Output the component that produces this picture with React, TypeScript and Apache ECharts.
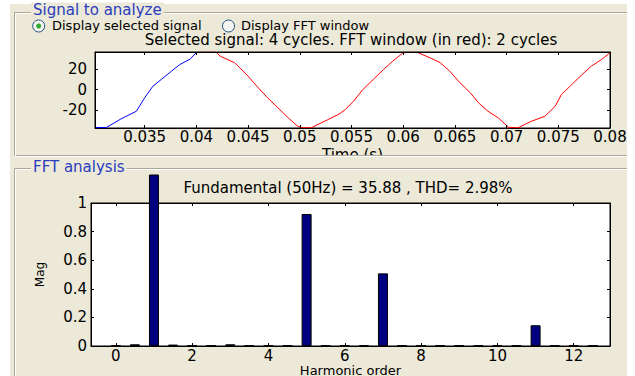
import React, { useEffect, useRef } from "react";
import * as echarts from "echarts";

// ---- Signal (top panel) ----
const blueTime = [0.0302, 0.0313, 0.0327, 0.0342, 0.035, 0.0358, 0.0366, 0.0376, 0.0384, 0.0394, 0.04];
const blueValue = [-36.6, -36.6, -28.4, -20.9, -8.0, 3.3, 9.7, 17.8, 24.2, 29.4, 35.8];
const redTime = [
  0.04, 0.0419, 0.0423, 0.0437, 0.045, 0.046, 0.0469, 0.0479, 0.0489, 0.0498, 0.0503, 0.0511,
  0.0527, 0.0537, 0.0544, 0.0552, 0.0561, 0.0571, 0.0581, 0.059, 0.06, 0.0613, 0.0626, 0.0636,
  0.0645, 0.0655, 0.0665, 0.0673, 0.0682, 0.0692, 0.0702, 0.0711, 0.0724, 0.0737, 0.0747,
  0.0753, 0.0763, 0.0773, 0.0782, 0.0792, 0.08,
];
const redValue = [
  35.9, 36.2, 32.3, 25.9, 13.0, 1.6, -8.0, -17.7, -27.4, -35.4, -36.9, -36.9,
  -29.1, -24.2, -19.4, -11.2, 0.0, 9.7, 19.4, 27.5, 35.6, 36.2, 30.7, 25.9,
  17.8, 6.5, -3.2, -12.9, -20.9, -27.4, -36.4, -36.9, -30.6, -25.8, -16.1,
  -4.8, 4.8, 14.5, 22.7, 29.1, 35.6,
];
const timeTicks = [0.035, 0.04, 0.045, 0.05, 0.055, 0.06, 0.065, 0.07, 0.075, 0.08];
const signalTicks = [-20, 0, 20];

// ---- FFT (bottom panel) ----
const harmonicOrder = [
  0, 0.5, 1, 1.5, 2, 2.5, 3, 3.5, 4, 4.5, 5, 5.5, 6, 6.5, 7, 7.5, 8, 8.5, 9, 9.5, 10, 10.5, 11, 11.5, 12, 12.5,
];
const magnitude = [
  0.004, 0.012, 35.88, 0.01, 0.004, 0.004, 0.012, 0.004, 0.004, 0.004, 0.923, 0.004, 0.004,
  0.004, 0.508, 0.004, 0.004, 0.004, 0.004, 0.004, 0.004, 0.004, 0.145, 0.004, 0.004, 0.004,
];
const harmonicTicks = [0, 2, 4, 6, 8, 10, 12];
const magTicks = [0, 0.2, 0.4, 0.6, 0.8, 1];

const BG = "#ece9d8";
const FONT = "DejaVu Sans";

// layout
const TOP = { left: 95, right: 25, top: 52, height: 76 };
const BOT = { left: 91, right: 25, top: 203, height: 143 };
const CLIP_TOP = 175;

function frameAxis(extra: any, ticks: number[], showLabels: boolean, margin: number) {
  return {
    type: "value",
    z: 10,
    axisLine: { show: true, onZero: false, lineStyle: { color: "#000", width: 1 } },
    axisTick: { show: true, inside: true, length: 3, customValues: ticks, lineStyle: { color: "#000" } },
    axisLabel: {
      show: showLabels,
      customValues: ticks,
      margin,
      color: "#000",
      fontFamily: FONT,
      fontSize: 15,
      lineHeight: 13,
      formatter: (v: number) => String(parseFloat(Number(v).toFixed(4))),
    },
    splitLine: { show: false },
    ...extra,
  };
}

export default function App() {
  const ref = useRef<HTMLDivElement>(null);
  useEffect(() => {
    const chart = echarts.init(ref.current!, null, { renderer: "svg" });
    const botBottom = BOT.top + BOT.height;
    const clipMax = (botBottom - CLIP_TOP) / BOT.height; // value at the clip line, axis scale 0..1
    const tMin = 0.0302, tMax = 0.08, yMin = -37.1, yMax = 36.3;
    const hMin = -0.65, hMax = 12.95;

    const etched = (pts: number[][], z = 100) => [
      { type: "polyline", z, shape: { points: pts }, style: { stroke: "#aca899", fill: null, lineWidth: 1 } },
      {
        type: "polyline",
        z,
        shape: { points: pts.map((p) => [p[0] + 1, p[1] + 1]) },
        style: { stroke: "#ffffff", fill: null, lineWidth: 1 },
      },
    ];

    const option: any = {
      animation: false,
      grid: [
        { ...TOP, show: true, backgroundColor: "#fff", borderWidth: 1, borderColor: "#000", outerBoundsMode: "none", containLabel: false },
        { left: BOT.left, right: BOT.right, top: CLIP_TOP, height: botBottom - CLIP_TOP, show: false, outerBoundsMode: "none", containLabel: false },
        { ...BOT, show: true, backgroundColor: "#fff", borderWidth: 1, borderColor: "#000", outerBoundsMode: "none", containLabel: false },
      ],
      xAxis: [
        frameAxis(
          {
            gridIndex: 0, position: "bottom", min: tMin, max: tMax,
            name: "Time (s)", nameLocation: "middle", nameGap: 20,
            nameTextStyle: { color: "#000", fontFamily: FONT, fontSize: 15, lineHeight: 13 },
          },
          timeTicks, true, 2
        ),
        frameAxis({ gridIndex: 0, position: "top", min: tMin, max: tMax }, timeTicks, false, 3),
        { type: "value", gridIndex: 1, min: hMin, max: hMax, show: false },
        frameAxis(
          {
            gridIndex: 2, position: "bottom", min: hMin, max: hMax,
            name: "Harmonic order", nameLocation: "middle", nameGap: 16,
            nameTextStyle: { color: "#000", fontFamily: FONT, fontSize: 13, lineHeight: 12 },
          },
          harmonicTicks, true, 3
        ),
        frameAxis({ gridIndex: 2, position: "top", min: hMin, max: hMax }, harmonicTicks, false, 3),
      ],
      yAxis: [
        frameAxis({ gridIndex: 0, position: "left", min: yMin, max: yMax }, signalTicks, true, 8),
        frameAxis({ gridIndex: 0, position: "right", min: yMin, max: yMax }, signalTicks, false, 3),
        { type: "value", gridIndex: 1, min: 0, max: clipMax, show: false },
        frameAxis(
          {
            gridIndex: 2, position: "left", min: 0, max: 1,
            name: "Mag", nameLocation: "middle", nameGap: 45, nameRotate: 90,
            nameTextStyle: { color: "#000", fontFamily: FONT, fontSize: 12 },
          },
          magTicks, true, 4
        ),
        frameAxis({ gridIndex: 2, position: "right", min: 0, max: 1 }, magTicks, false, 3),
      ],
      series: [
        {
          type: "line", xAxisIndex: 0, yAxisIndex: 0, symbol: "none", z: 5,
          data: blueTime.map((t, i) => [t, blueValue[i]]),
          lineStyle: { color: "#0000ff", width: 1 },
        },
        {
          type: "line", xAxisIndex: 0, yAxisIndex: 0, symbol: "none", z: 5,
          data: redTime.map((t, i) => [t, redValue[i]]),
          lineStyle: { color: "#ff0000", width: 1 },
        },
        {
          type: "bar", xAxisIndex: 2, yAxisIndex: 2, clip: true, barWidth: 10,
          data: harmonicOrder.map((h, i) => [h, magnitude[i]]),
          itemStyle: { color: "#000080", borderColor: "#000", borderWidth: 1 },
          z: 12,
        },
      ],
      graphic: [
        // cover the lower part of the "Time (s)" label (clipped by panel)
        { type: "rect", z: 99, shape: { x: 200, y: 156, width: 300, height: 11 }, style: { fill: BG } },
        ...etched([[627, 12.5], [14.5, 12.5], [14.5, 155.5], [627, 155.5]]),
        ...etched([[627, 168.5], [14.5, 168.5], [14.5, 380]]),
        {
          type: "text", z: 101, x: 31, y: 10,
          style: {
            text: "Signal to analyze", fill: "#2a3cc0", font: `15px '${FONT}'`,
            verticalAlign: "middle", align: "left", backgroundColor: BG, padding: [0, 2],
          },
        },
        {
          type: "text", z: 101, x: 31, y: 167,
          style: {
            text: "FFT analysis", fill: "#2a3cc0", font: `15px '${FONT}'`,
            verticalAlign: "middle", align: "left", backgroundColor: BG, padding: [0, 2],
          },
        },
        // radio buttons
        { type: "circle", z: 101, shape: { cx: 38.7, cy: 26, r: 6 }, style: { fill: "#f4f4f0", stroke: "#1c5180", lineWidth: 1 } },
        { type: "circle", z: 102, shape: { cx: 38.7, cy: 26, r: 2.5 }, style: { fill: "#2fa82f" } },
        {
          type: "text", z: 101, x: 52, y: 25,
          style: { text: "Display selected signal", fill: "#000", font: `13px '${FONT}'`, verticalAlign: "middle", lineHeight: 12 },
        },
        { type: "circle", z: 101, shape: { cx: 228.5, cy: 26, r: 6 }, style: { fill: "#f4f4f0", stroke: "#1c5180", lineWidth: 1 } },
        {
          type: "text", z: 101, x: 241, y: 25,
          style: { text: "Display FFT window", fill: "#000", font: `13px '${FONT}'`, verticalAlign: "middle", lineHeight: 12 },
        },
        // plot titles
        {
          type: "text", z: 101, x: 351, y: 40,
          style: {
            text: "Selected signal: 4 cycles. FFT window (in red): 2 cycles", fill: "#000",
            font: `15px '${FONT}'`, align: "center", verticalAlign: "middle", lineHeight: 14,
          },
        },
        {
          type: "text", z: 101, x: 348, y: 188,
          style: {
            text: "Fundamental (50Hz) = 35.88 , THD= 2.98%", fill: "#000",
            font: `15px '${FONT}'`, align: "center", verticalAlign: "middle",
          },
        },
      ],
    };
    chart.setOption(option);
    return () => chart.dispose();
  }, []);

  return (
    <div style={{ position: "fixed", left: 0, top: 0, width: 635, height: 376, background: "#fff", overflow: "hidden" }}>
      <div style={{ position: "absolute", left: 10, top: 4, width: 617, height: 372, background: BG }} />
      <div ref={ref} style={{ position: "absolute", left: 0, top: 0, width: 635, height: 376 }} />
    </div>
  );
}
